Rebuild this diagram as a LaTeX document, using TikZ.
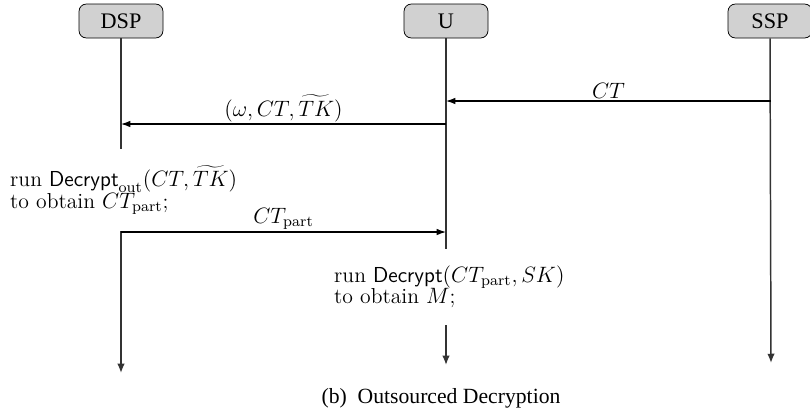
\documentclass[tikz,border=0pt]{standalone}
\usepackage{fontspec}
\newfontfamily\tnr{Liberation Serif}
\usetikzlibrary{arrows.meta}
\begin{document}
\begin{tikzpicture}[x=0.54pt,y=-0.54pt,
  every node/.style={font=\fontsize{11.7}{11.6}\selectfont},
  actor/.style={draw=black,fill=black!18,rounded corners=4pt,minimum width=84*0.54pt,minimum height=34*0.54pt,inner sep=0pt,font=\tnr\fontsize{12}{14}\selectfont},
  life/.style={draw=black!80,line width=0.8pt,-{Latex[length=5pt,width=4pt]}},
  msg/.style={draw=black,line width=0.6pt,-{Latex[length=5pt,width=3.5pt]}},
  lbl/.style={inner sep=1pt,anchor=south},
  note/.style={anchor=west,align=left,fill=white,inner xsep=1pt,inner ysep=9pt}]
\useasboundingbox (0,0) rectangle (810,416);
\node[actor] (dsp) at (121,21) {DSP};
\node[actor] (u) at (446,21) {U};
\node[actor] (ssp) at (770,21) {SSP};
\coordinate (dspend) at (121,373);
\coordinate (uend) at (446,365);
\coordinate (sspend) at (771,363);
\draw[life] (dsp.south) -- (dspend);
\draw[life] (u.south) -- (uend);
\draw[life] (ssp.south) -- (sspend);
\coordinate (a1) at (771,101); \coordinate (a2) at (446,101);
\draw[msg] (a1) -- node[lbl,pos=0.5]{$CT$} (a2);
\coordinate (b1) at (446,124); \coordinate (b2) at (121,124);
\draw[msg] (b1) -- node[lbl,pos=0.5]{$(\omega,CT,\widetilde{TK})$} (b2);
\node[note] (t1) at (8,190) {run $\mathsf{Decrypt}_{\mathrm{out}}(CT,\widetilde{TK})$\\to obtain $CT_{\mathrm{part}}$;};
\node[note] (t2) at (332,287) {run $\mathsf{Decrypt}(CT_{\mathrm{part}},SK)$\\to obtain $M$;};
\coordinate (c1) at (121,232); \coordinate (c2) at (446,232);
\draw[msg] (c1) -- node[lbl,pos=0.5]{$CT_{\mathrm{part}}$} (c2);
\node[font=\tnr\fontsize{11.7}{14}\selectfont] (cap) at (441,398) {(b)\ \ Outsourced Decryption};
\end{tikzpicture}
\end{document}
